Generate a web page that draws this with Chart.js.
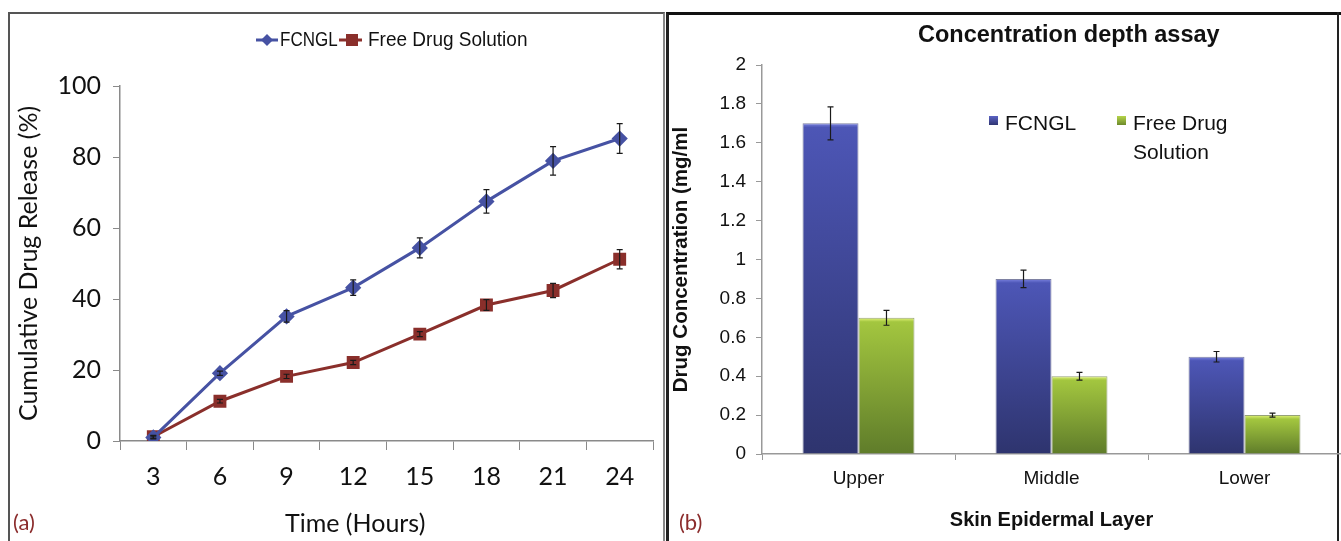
<!DOCTYPE html>
<html>
<head>
<meta charset="utf-8">
<script src="https://cdn.jsdelivr.net/npm/chart.js@4.4.1/dist/chart.umd.min.js"></script>
<style>
    body { margin: 0; width: 1341px; height: 541px; background: #fff; position: relative; overflow: hidden; font-family: 'Liberation Sans', Arial, sans-serif; }
    .panel { position: absolute; }
    #panelA { left: 8px; top: 12px; width: 657px; height: 529px; border-left: 2px solid #555; border-top: 2px solid #555; border-right: 2px solid #888; box-sizing: border-box; }
    #panelB { left: 666px; top: 12px; width: 675px; height: 529px; border-left: 3px solid #222; border-top: 3px solid #111; box-sizing: border-box; }
    #bordeDer { position: absolute; left: 1337px; top: 12px; width: 2px; height: 529px; background: #222; }
    canvas { position: absolute; }
    .txt { position: absolute; white-space: nowrap; color: #111; }
    .etiqueta { color: #8b2c2c; font-family: 'Lato', sans-serif; font-size: 22px; }
    .ley-a { font-family: 'Liberation Sans', Arial, sans-serif; font-size: 20px; top: 28px; transform-origin: left center; }
    .ley-b { font-family: 'Liberation Sans', Arial, sans-serif; font-size: 21px; line-height: 29px; }
    .cuadro { position: absolute; width: 9px; height: 9px; }
</style>
</head>
<body>
<div class="panel" id="panelA"></div>
<div class="panel" id="panelB"></div>
<div id="bordeDer"></div>

<canvas id="chartA" width="655" height="527" style="left:10px; top:14px;"></canvas>
<canvas id="chartB" width="672" height="526" style="left:669px; top:15px;"></canvas>

<!-- leyenda (a) -->
<canvas id="marcasA" width="120" height="24" style="left:250px; top:28px;"></canvas>
<div class="txt ley-a" style="left:280px; transform:scaleX(0.85);">FCNGL</div>
<div class="txt ley-a" style="left:368px; transform:scaleX(0.95);">Free Drug Solution</div>
<div class="txt" style="left:285px; top:507px; font-family:'Lato',sans-serif; font-size:25px;">Time (Hours)</div>
<div class="txt etiqueta" style="left:13px; top:508px;">(a)</div>

<!-- leyenda (b) -->
<div class="txt" style="left:918px; top:21px; font-weight:bold; font-size:23.5px; font-family:'Liberation Sans',Arial,sans-serif;">Concentration depth assay</div>
<div class="cuadro" style="left:989px; top:116px; background:linear-gradient(#5b63c4,#2f3572);"></div>
<div class="txt ley-b" style="left:1005px; top:108px;">FCNGL</div>
<div class="cuadro" style="left:1117px; top:116px; background:linear-gradient(#b5d44a,#6d8a2c);"></div>
<div class="txt ley-b" style="left:1133px; top:108px;">Free Drug<br>Solution</div>
<div class="txt etiqueta" style="left:679px; top:508px;">(b)</div>

<script>
// datos panel (a)
const horas = ['3', '6', '9', '12', '15', '18', '21', '24'];
const liberacion_fcngl = [1, 19.1, 35.1, 43.2, 54.4, 67.5, 78.9, 85.2];
const error_fcngl = [0.4, 0.6, 1.6, 2.2, 2.8, 3.3, 4.0, 4.2];
const liberacion_libre = [1.2, 11.2, 18.2, 22.1, 30.1, 38.3, 42.4, 51.2];
const error_libre = [0.4, 0.5, 0.6, 0.6, 0.7, 1.5, 2.0, 2.7];
const ticks_a = [0, 20, 40, 60, 80, 100];

// datos panel (b)
const capas = ['Upper', 'Middle', 'Lower'];
const conc_fcngl = [1.7, 0.9, 0.5];
const conc_error_fcngl = [0.085, 0.045, 0.027];
const conc_libre = [0.7, 0.4, 0.2];
const conc_error_libre = [0.038, 0.02, 0.01];
const ticks_b = [0, 0.2, 0.4, 0.6, 0.8, 1, 1.2, 1.4, 1.6, 1.8, 2];

const errorBars = {
    id: 'errorBars',
    afterDatasetsDraw(chart) {
        const ctx = chart.ctx;
        const y = chart.scales.y;
        chart.data.datasets.forEach((ds, i) => {
            const meta = chart.getDatasetMeta(i);
            meta.data.forEach((el, j) => {
                const e = ds.errores[j];
                const v = ds.data[j];
                const yTop = y.getPixelForValue(v + e);
                const yBot = y.getPixelForValue(v - e);
                ctx.save();
                ctx.strokeStyle = '#1a1a1a';
                ctx.lineWidth = 1.2;
                ctx.beginPath();
                ctx.moveTo(el.x, yTop);
                ctx.lineTo(el.x, yBot);
                ctx.moveTo(el.x - 3, yTop);
                ctx.lineTo(el.x + 3, yTop);
                ctx.moveTo(el.x - 3, yBot);
                ctx.lineTo(el.x + 3, yBot);
                ctx.stroke();
                ctx.restore();
            });
        });
    }
};

function gradienteBarra(context, arriba, medio, abajo) {
    const chart = context.chart;
    if (!chart.chartArea || context.raw === undefined) return medio;
    const y = chart.scales.y;
    const top = y.getPixelForValue(context.raw);
    const bottom = y.getPixelForValue(0);
    if (!isFinite(top) || bottom - top < 1) return medio;
    const g = chart.ctx.createLinearGradient(0, top, 0, bottom);
    const borde = Math.min(0.5, 4 / (bottom - top));
    g.addColorStop(0, arriba);
    g.addColorStop(borde, medio);
    g.addColorStop(1, abajo);
    return g;
}

// marcas de leyenda (a)
const lm = document.getElementById('marcasA').getContext('2d');
lm.lineWidth = 3;
lm.strokeStyle = '#4652a3';
lm.beginPath(); lm.moveTo(6, 12); lm.lineTo(28, 12); lm.stroke();
lm.fillStyle = '#4652a3';
lm.beginPath(); lm.moveTo(17, 6); lm.lineTo(23, 12); lm.lineTo(17, 18); lm.lineTo(11, 12); lm.closePath(); lm.fill();
lm.strokeStyle = '#8a2f2b';
lm.beginPath(); lm.moveTo(89, 12); lm.lineTo(112, 12); lm.stroke();
lm.fillStyle = '#8a2f2b';
lm.fillRect(96, 6, 12, 12);

new Chart(document.getElementById('chartA'), {
    type: 'line',
    data: {
        labels: horas,
        datasets: [{
            label: 'FCNGL',
            data: liberacion_fcngl,
            errores: error_fcngl,
            borderColor: '#4652a3',
            backgroundColor: '#4652a3',
            borderWidth: 3,
            pointStyle: 'rectRot',
            pointRadius: 6,
            tension: 0
        }, {
            label: 'Free Drug Solution',
            data: liberacion_libre,
            errores: error_libre,
            borderColor: '#8a2f2b',
            backgroundColor: '#8a2f2b',
            borderWidth: 3,
            pointStyle: 'rect',
            pointRadius: 7,
            tension: 0
        }]
    },
    options: {
        responsive: false,
        animation: false,
        layout: { padding: { top: 72, right: 12, left: 0, bottom: 0 } },
        plugins: { legend: { display: false }, tooltip: { enabled: false } },
        scales: {
            x: {
                offset: true,
                grid: { offset: true, drawOnChartArea: false, color: '#8a8a8a', tickLength: 9 },
                border: { color: '#8a8a8a', width: 1.5 },
                ticks: { color: '#111', font: { family: 'Lato', size: 25 }, padding: 12 },
                afterFit: (s) => { s.height = 100; }
            },
            y: {
                min: 0,
                max: 100,
                afterBuildTicks: (s) => { s.ticks = ticks_a.map(v => ({ value: v })); },
                grid: { drawOnChartArea: false, color: '#8a8a8a', tickLength: 7 },
                border: { color: '#8a8a8a', width: 1.5 },
                ticks: { color: '#111', font: { family: 'Lato', size: 25 }, padding: 12 },
                title: { display: true, text: 'Cumulative Drug Release (%)', color: '#111', font: { family: 'Lato', size: 25 }, padding: { top: 4, bottom: 0 } },
                afterFit: (s) => { s.width = 110; }
            }
        }
    },
    plugins: [errorBars]
});

new Chart(document.getElementById('chartB'), {
    type: 'bar',
    data: {
        labels: capas,
        datasets: [{
            label: 'FCNGL',
            data: conc_fcngl,
            errores: conc_error_fcngl,
            backgroundColor: (c) => gradienteBarra(c, '#7c84e0', '#4d56b6', '#2e346e'),
            borderColor: 'rgba(40,45,100,0.6)',
            borderWidth: 1
        }, {
            label: 'Free Drug Solution',
            data: conc_libre,
            errores: conc_error_libre,
            backgroundColor: (c) => gradienteBarra(c, '#e4f57a', '#a3c63f', '#5f7c2a'),
            borderColor: 'rgba(80,100,30,0.6)',
            borderWidth: 1
        }]
    },
    options: {
        responsive: false,
        animation: false,
        layout: { padding: { top: 50, right: 0, left: 0, bottom: 0 } },
        plugins: { legend: { display: false }, tooltip: { enabled: false } },
        datasets: { bar: { barPercentage: 1, categoryPercentage: 0.58 } },
        scales: {
            x: {
                grid: { offset: true, drawOnChartArea: false, color: '#999', tickLength: 6 },
                border: { color: '#999', width: 1.5 },
                ticks: { color: '#111', font: { family: 'Liberation Sans', size: 19 }, padding: 7 },
                title: { display: true, text: 'Skin Epidermal Layer', color: '#111', font: { family: 'Liberation Sans', size: 20, weight: 'bold' }, padding: { top: 10, bottom: 9 } },
                afterFit: (s) => { s.height = 87; }
            },
            y: {
                min: 0,
                max: 2,
                afterBuildTicks: (s) => { s.ticks = ticks_b.map(v => ({ value: v })); },
                grid: { drawOnChartArea: false, color: '#999', tickLength: 6 },
                border: { color: '#999', width: 1.5 },
                ticks: { color: '#111', font: { family: 'Liberation Sans', size: 19 }, padding: 10, callback: (v) => String(Math.round(v * 10) / 10) },
                title: { display: true, text: 'Drug Concentration (mg/ml', color: '#111', font: { family: 'Liberation Sans', size: 20.5, weight: 'bold' }, padding: { top: 0, bottom: 0 } },
                afterFit: (s) => { s.width = 93; }
            }
        }
    },
    plugins: [errorBars]
});
</script>
</body>
</html>
